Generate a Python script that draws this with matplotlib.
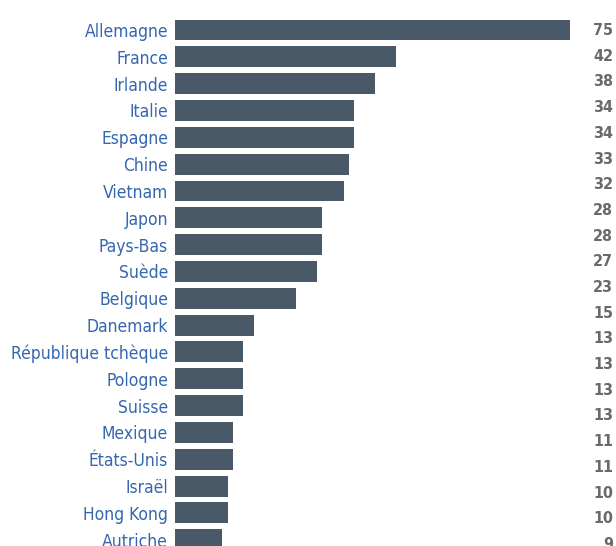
import matplotlib
matplotlib.use("Agg")
import matplotlib.pyplot as plt
from matplotlib import font_manager

# ---- data ----
countries = ["Allemagne", "France", "Irlande", "Italie", "Espagne", "Chine",
             "Vietnam", "Japon", "Pays-Bas", "Suède", "Belgique", "Danemark",
             "République tchèque", "Pologne", "Suisse", "Mexique", "États-Unis",
             "Israël", "Hong Kong", "Autriche"]
values = [75, 42, 38, 34, 34, 33, 32, 28, 28, 27, 23, 15, 13, 13, 13, 11, 11,
          10, 10, 9]
# value column as printed on the right (it is its own list in the source)
value_labels = ["75", "42", "38", "34", "34", "33", "32", "28", "28", "27",
                "23", "15", "13", "13", "13", "13", "11", "11", "10", "10", "9"]

# ---- fonts ----
def pick_font():
    for fam in ["Liberation Sans Narrow"]:
        try:
            font_manager.findfont(font_manager.FontProperties(family=fam),
                                  fallback_to_default=False)
            return dict(family=fam)
        except Exception:
            pass
    return dict(family="DejaVu Sans", stretch="condensed")

fnt = pick_font()

BAR = "#4a5967"
BLUE = "#3567b0"
GRAY = "#6a6a6a"

W, H = 616, 546
fig = plt.figure(figsize=(W / 100, H / 100), dpi=100)
fig.patch.set_facecolor("white")

x0, x1 = 175, 570
ax = fig.add_axes([x0 / W, 0, (x1 - x0) / W, 1])
ax.set_xlim(0, max(values))
top_c, step = 30, 26.83
ax.set_ylim((H - top_c) / step, -top_c / step)
ypos = list(range(len(countries)))
ax.barh(ypos, values, height=0.78, color=BAR, edgecolor="none")
ax.set_yticks(ypos)
ax.set_yticklabels(countries, color=BLUE, fontsize=12.5, **fnt)
ax.tick_params(axis="y", length=0, pad=5)
ax.set_xticks([])
for s in ax.spines.values():
    s.set_visible(False)
ax.patch.set_alpha(0)

# value column axis
ax2 = fig.add_axes([x0 / W, 0, (x1 - x0) / W, 1])
vtop, vstep = 30.5, 25.7
ax2.set_ylim((H - vtop) / vstep, -vtop / vstep)
ax2.set_xlim(0, 1)
ax2.axis("off")
ax2.patch.set_alpha(0)
import matplotlib.transforms as mtrans
tr = mtrans.blended_transform_factory(fig.transFigure, ax2.transData)
for j, lab in enumerate(value_labels):
    ax2.text(613 / W, j, lab, transform=tr, ha="right", va="center",
             color=GRAY, fontsize=11.5, fontweight="bold", clip_on=False, **fnt)

fig.savefig("out.png", dpi=100, facecolor="white")
